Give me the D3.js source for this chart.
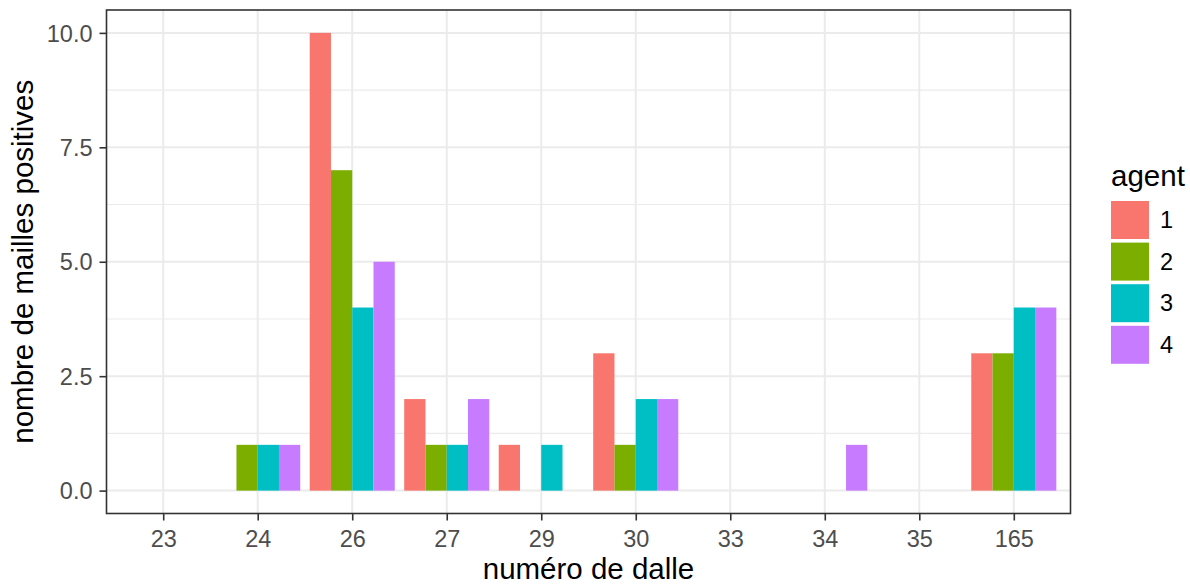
<!DOCTYPE html>
<html>
<head>
<meta charset="utf-8">
<script src="https://cdn.jsdelivr.net/npm/d3@7"></script>
<style>
  html, body { margin: 0; padding: 0; background: #fff; }
  svg { display: block; font-family: "Liberation Sans", Arial, sans-serif; }
</style>
</head>
<body>
<svg id="chart" width="1190" height="586"></svg>
<script>
// ---- data ----
const categories = ["23", "24", "26", "27", "29", "30", "33", "34", "35", "165"];
const agents = ["1", "2", "3", "4"];
const agent1 = [0, 0, 10, 2, 1, 3, 0, 0, 0, 3];
const agent2 = [0, 1, 7, 1, 0, 1, 0, 0, 0, 3];
const agent3 = [0, 1, 4, 1, 1, 2, 0, 0, 0, 4];
const agent4 = [0, 1, 5, 2, 0, 2, 0, 1, 0, 4];
const agentColors = ["#F8766D", "#7CAE00", "#00BFC4", "#C77CFF"];
const yTicks = [0, 2.5, 5, 7.5, 10];
const yMinor = [1.25, 3.75, 6.25, 8.75];
const xTitle = "numéro de dalle";
const yTitle = "nombre de mailles positives";
const legendTitle = "agent";

const series = [agent1, agent2, agent3, agent4];
const rows = [];
categories.forEach((c, i) => {
  agents.forEach((a, j) => rows.push({ cat: c, agent: a, value: series[j][i] }));
});

// ---- layout ----
const svg = d3.select("#chart");
const P = { left: 106.5, top: 10, right: 1070.5, bottom: 513.5 };

const x = d3.scalePoint().domain(categories).range([P.left, P.right]).padding(0.6);
const step = x.step();
const xSub = d3.scaleBand().domain(agents).range([-0.45 * step, 0.45 * step]).padding(0);
const y = d3.scaleLinear().domain([-0.5, 10.5]).range([P.bottom, P.top]);
const color = d3.scaleOrdinal().domain(agents).range(agentColors);

// panel background
svg.append("rect").attr("x", P.left).attr("y", P.top)
  .attr("width", P.right - P.left).attr("height", P.bottom - P.top).attr("fill", "#fff");

// grid
const grid = svg.append("g");
grid.selectAll(".ymin").data(yMinor).join("line")
  .attr("x1", P.left).attr("x2", P.right)
  .attr("y1", d => y(d)).attr("y2", d => y(d))
  .attr("stroke", "#EBEBEB").attr("stroke-width", 1.1);
grid.selectAll(".ymaj").data(yTicks).join("line")
  .attr("x1", P.left).attr("x2", P.right)
  .attr("y1", d => y(d)).attr("y2", d => y(d))
  .attr("stroke", "#EBEBEB").attr("stroke-width", 2);
grid.selectAll(".xmaj").data(categories).join("line")
  .attr("y1", P.top).attr("y2", P.bottom)
  .attr("x1", d => x(d)).attr("x2", d => x(d))
  .attr("stroke", "#EBEBEB").attr("stroke-width", 2);

// bars
svg.append("g").selectAll("rect").data(rows.filter(r => r.value > 0)).join("rect")
  .attr("x", d => x(d.cat) + xSub(d.agent))
  .attr("width", xSub.bandwidth())
  .attr("y", d => y(d.value))
  .attr("height", d => y(0) - y(d.value))
  .attr("fill", d => color(d.agent));

// panel border
svg.append("rect").attr("x", P.left).attr("y", P.top)
  .attr("width", P.right - P.left).attr("height", P.bottom - P.top)
  .attr("fill", "none").attr("stroke", "#333333").attr("stroke-width", 1.6);

// axes
const yAxis = d3.axisLeft(y).tickValues(yTicks).tickFormat(d3.format(".1f")).tickSize(7).tickPadding(7);
const gy = svg.append("g").attr("transform", `translate(${P.left},0)`).call(yAxis);
const xAxis = d3.axisBottom(x).tickSize(7).tickPadding(9.5);
const gx = svg.append("g").attr("transform", `translate(0,${P.bottom})`).call(xAxis);
[gx, gy].forEach(g => {
  g.select(".domain").remove();
  g.selectAll(".tick line").attr("stroke", "#333333").attr("stroke-width", 1.6);
  g.selectAll(".tick text").attr("fill", "#4D4D4D").style("font-size", "23.5px")
    .style("font-family", "'Liberation Sans', Arial, sans-serif");
});
gy.selectAll(".tick text").attr("dy", "0.35em");
gx.selectAll(".tick text").attr("dy", "0.71em");

// axis titles
svg.append("text").attr("x", (P.left + P.right) / 2).attr("y", 579)
  .attr("text-anchor", "middle").attr("fill", "#000").style("font-size", "29.5px")
  .text(xTitle);
svg.append("text")
  .attr("transform", `translate(33,${(P.top + P.bottom) / 2}) rotate(-90)`)
  .attr("text-anchor", "middle").attr("fill", "#000").style("font-size", "29.5px")
  .text(yTitle);

// legend
const lg = svg.append("g");
lg.append("text").attr("x", 1111).attr("y", 186).attr("fill", "#000")
  .style("font-size", "29.5px").text(legendTitle);
const keyTop = 201, keyStep = 41.6, keySize = 38;
agents.forEach((a, i) => {
  lg.append("rect").attr("x", 1111).attr("y", keyTop + i * keyStep)
    .attr("width", keySize).attr("height", keySize).attr("fill", color(a));
  lg.append("text").attr("x", 1160).attr("y", keyTop + i * keyStep + keySize / 2)
    .attr("dy", "0.35em").attr("fill", "#000").style("font-size", "23.5px").text(a);
});
</script>
</body>
</html>
